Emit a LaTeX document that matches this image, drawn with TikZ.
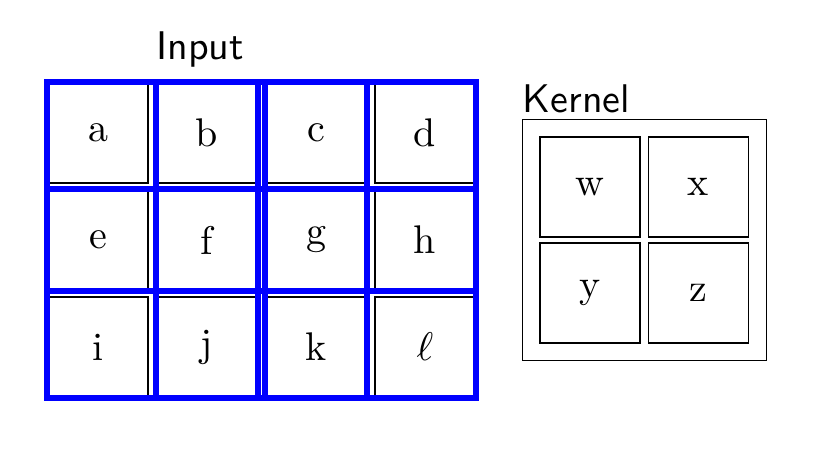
\documentclass[tikz,border=0pt]{standalone}
\usetikzlibrary{fit}
\begin{document}
\begin{tikzpicture}[x=0.25pt,y=-0.25pt,
  cell/.style={draw=black,line width=0.35pt,minimum size=25pt,inner sep=0pt,font=\fontsize{10}{12}\selectfont},
  win/.style={draw=blue,line width=1.5pt},
  kbox/.style={draw=black,line width=0.35pt,inner sep=4.25pt},
  title/.style={font=\sffamily\fontsize{10}{12}\selectfont,inner sep=0pt}]
\useasboundingbox (0,0) rectangle (836,462);
% input cells
\node[cell] (a) at (98,133) {a};
\node[cell] (b) at (207,133) {b};
\node[cell] (c) at (316,133) {c};
\node[cell] (d) at (425,133) {d};
\node[cell] (e) at (98,240) {e};
\node[cell] (f) at (207,240) {f};
\node[cell] (g) at (316,240) {g};
\node[cell] (h) at (425,240) {h};
\node[cell] (i) at (98,347) {i};
\node[cell] (j) at (207,347) {j};
\node[cell] (k) at (316,347) {k};
\node[cell] (l) at (425,347) {$\ell$};
% sliding windows
\draw[win] (a.north west) rectangle (f.south east);
\draw[win] (b.north west) rectangle (g.south east);
\draw[win] (c.north west) rectangle (h.south east);
\draw[win] (e.north west) rectangle (j.south east);
\draw[win] (f.north west) rectangle (k.south east);
\draw[win] (g.north west) rectangle (l.south east);
\node[title,anchor=base] (inlabel) at (200,59) {Input};
% kernel
\node[cell] (w) at (590,187) {w};
\node[cell] (x) at (698.5,187) {x};
\node[cell] (y) at (590,293) {y};
\node[cell] (z) at (698.5,293) {z};
\node[kbox,fit=(w)(x)(y)(z)] (kernel) {};
\node[title,anchor=base west] (klabel) at (522,112) {Kernel};
\end{tikzpicture}
\end{document}
